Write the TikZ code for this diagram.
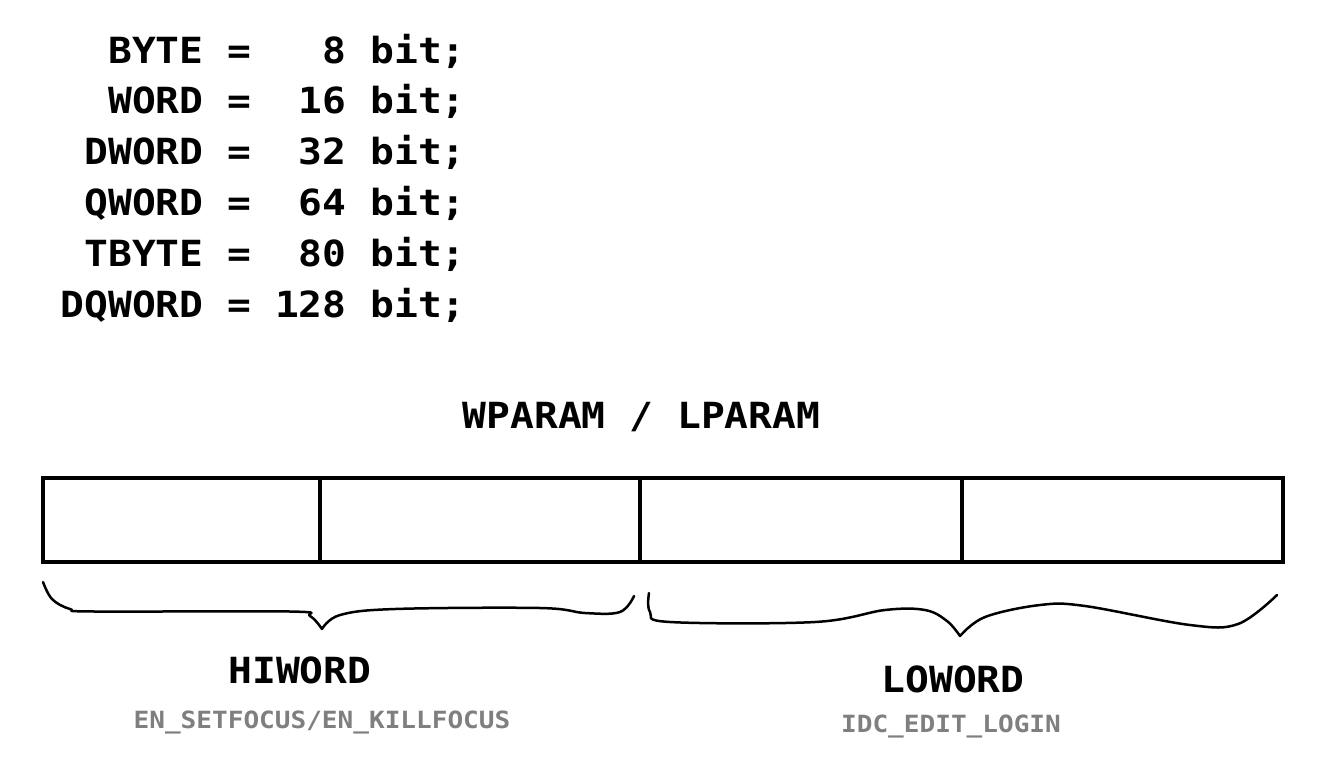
\documentclass[tikz,border=0pt]{standalone}
\usepackage{fontspec}
\newfontfamily\codefont{DejaVu Sans Mono}[FakeStretch=1.1]
\usetikzlibrary{positioning}
\definecolor{labelgray}{HTML}{7F7F7F}

\begin{document}
\begin{tikzpicture}[
    x=1pt, y=-1pt,
    code/.style={inner sep=0pt, font=\codefont\bfseries\fontsize{36}{40}\selectfont},
    note/.style={inner sep=0pt, text=labelgray, font=\codefont\bfseries\fontsize{23.7}{28}\selectfont},
    cell/.style={rectangle, draw, line width=3.5pt, inner sep=0pt,
                 minimum height=84pt, anchor=north west},
    brace/.style={line width=2.5pt, line cap=round, line join=round}
  ]
    \useasboundingbox (0,0) rectangle (1340,766);

    \foreach \txt [count=\i] in {{BYTE~=~~~8~bit;}, {WORD~=~~16~bit;}, {DWORD~=~~32~bit;},
                                 {QWORD~=~~64~bit;}, {TBYTE~=~~80~bit;}, {DQWORD~=~128~bit;}}
      \node[code, anchor=base east] (line\i) at (466, 63+50.8*\i-50.8) {\txt};

    \node[code, anchor=base] (title) at (641.5,428) {WPARAM~/~LPARAM};

    \node[cell, minimum width=277pt] (c1) at (41,476) {};
    \node[cell, minimum width=320pt] (c2) at (318,476) {};
    \node[cell, minimum width=322pt] (c3) at (638,476) {};
    \node[cell, minimum width=321pt] (c4) at (960,476) {};

    \draw[brace] plot[smooth, tension=0.6] coordinates {(43,582) (52,599) (70,609) (95,611.5) (290,611.5) (310,616) (322,629)};
    \draw[brace] plot[smooth, tension=0.6] coordinates {(322,629) (340,615) (395,609) (540,608) (585,613) (620,612) (634,596)};
    \draw[brace] plot[smooth, tension=0.6] coordinates {(649,593) (650,612) (670,622) (815,622) (885,610) (925,610) (947,621) (960,636)};
    \draw[brace] plot[smooth, tension=0.6] coordinates {(960,636) (985,617) (1040,605) (1085,606) (1190,625) (1238,624) (1277,595)};

    \node[code, anchor=base] (hiword) at (300,683) {HIWORD};
    \node[note, anchor=base] (hinote) at (322,728) {EN\_SETFOCUS/EN\_KILLFOCUS};
    \node[code, anchor=base] (loword) at (953,692) {LOWORD};
    \node[note, anchor=base] (lonote) at (951,732) {IDC\_EDIT\_LOGIN};
\end{tikzpicture}
\end{document}
